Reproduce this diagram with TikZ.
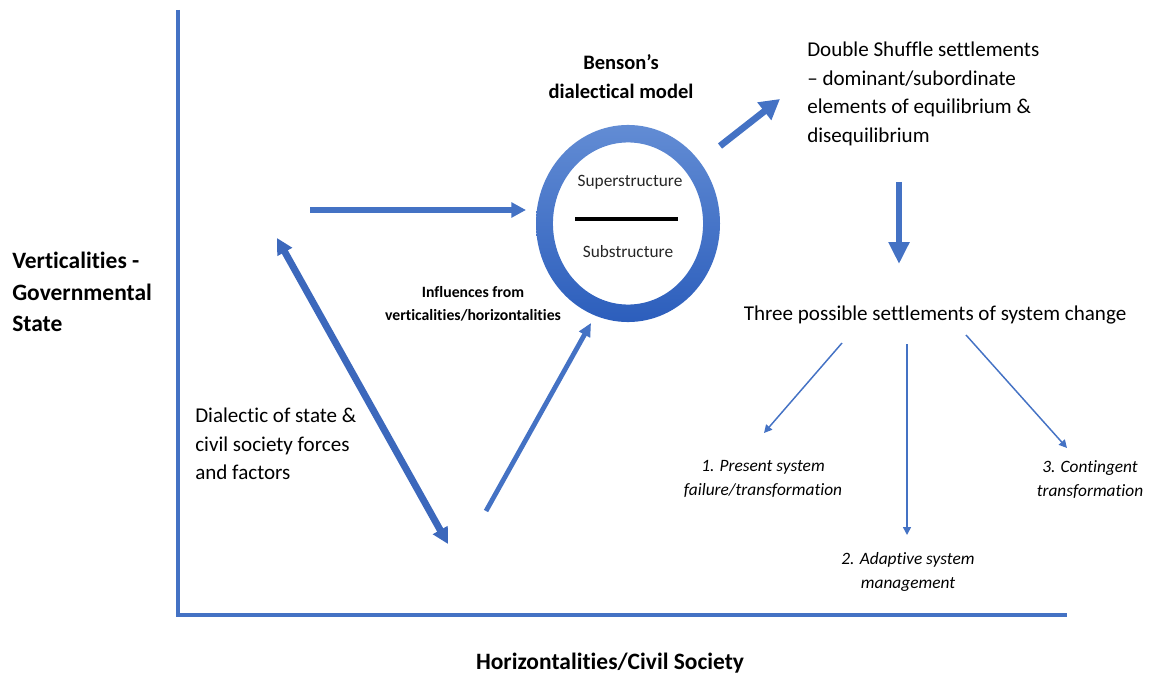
\documentclass[tikz,border=0pt]{standalone}
\usepackage{fontspec}
\setmainfont{Carlito}[Ligatures=NoCommon]
\usetikzlibrary{arrows.meta}
\definecolor{axisblue}{RGB}{68,114,196}
\definecolor{darkblue}{RGB}{60,104,188}
\definecolor{ringtop}{RGB}{98,140,212}
\definecolor{ringbot}{RGB}{44,94,188}
\begin{document}
\begin{tikzpicture}[x=0.75pt,y=-0.75pt,
  lbl/.style={inner sep=0pt, text=black},
  axislbl/.style={lbl, font=\bfseries\fontsize{17.6}{23.6}\selectfont},
  titlelbl/.style={lbl, font=\bfseries\fontsize{15.4}{21.7}\selectfont, align=center},
  smallbold/.style={lbl, font=\bfseries\fontsize{11.8}{16.8}\selectfont, align=center},
  body/.style={lbl, font=\fontsize{15.8}{21.4}\selectfont},
  layer/.style={lbl, text=black!85, font=\fontsize{13}{16}\selectfont},
  outcome/.style={lbl, font=\itshape\fontsize{13}{18}\selectfont, align=center},
  axisline/.style={draw=axisblue, line width=2.3pt},
  bigarrow/.style={draw=axisblue, line width=#1},
  thinarrow/.style={draw=axisblue, line width=1.1pt, -{Triangle[length=6pt, width=6pt]}}
]
\useasboundingbox (0,0) rectangle (1151,677);

% axes
\coordinate (ytop) at (178,10);
\coordinate (origin) at (178,615);
\coordinate (xend) at (1067,615);
\draw[axisline] (ytop) -- (origin) -- (xend);

% axis labels
\node[axislbl, anchor=west, align=left] (vert) at (12,292) {Verticalities -\\Governmental\\State};
\node[axislbl, anchor=center] (horiz) at (610,663) {Horizontalities/Civil Society};

% dialectical model ring
\coordinate (ring) at (628,223.5);
\shade[top color=ringtop, bottom color=ringbot, even odd rule]
  (ring) ellipse [x radius=69pt, y radius=73.9pt]
  (ring) ellipse [x radius=56.3pt, y radius=60.8pt];
\node[layer] (super) at (630,182) {Superstructure};
\node[layer] (sub) at (628,252) {Substructure};
\coordinate (barL) at (575,219);
\coordinate (barR) at (678,219);
\draw[line width=2.3pt] (barL) -- (barR);
\node[titlelbl] (benson) at (621,77) {Benson’s\\dialectical model};

% text blocks
\node[body, anchor=west, align=left] (shuffle) at (807,94)
  {Double Shuffle settlements\\– dominant/subordinate\\elements of equilibrium \&\\disequilibrium};
\node[body, anchor=center] (three) at (935,315) {Three possible settlements of system change};
\node[body, anchor=west, align=left] (dialectic) at (195,444)
  {Dialectic of state \&\\civil society forces\\and factors};
\node[smallbold] (influences) at (473,304) {Influences from\\verticalities/horizontalities};

% outcomes
\node[outcome] (out1) at (763,479) {1. Present system\\failure/transformation};
\node[outcome] (out2) at (908,572) {2. Adaptive system\\management};
\node[outcome] (out3) at (1090,480) {3. Contingent\\transformation};

% thick arrows
\coordinate (hA) at (310,210);
\coordinate (hB) at (526,210);
\draw[bigarrow=3.8pt, -{Triangle[length=11pt, width=11pt]}] (hA) -- (hB);

\coordinate (dA) at (277,238);
\coordinate (dB) at (448,544);
\draw[draw=darkblue, line width=5.2pt, {Triangle[length=12pt, width=12pt]}-{Triangle[length=12pt, width=12pt]}] (dA) -- (dB);

\coordinate (uA) at (486,511);
\coordinate (uB) at (591,323);
\draw[bigarrow=3.6pt, -{Triangle[length=10pt, width=9pt]}] (uA) -- (uB);

\coordinate (sA) at (720,146);
\coordinate (sB) at (780,99);
\draw[bigarrow=5pt, -{Triangle[length=15pt, width=16pt]}] (sA) -- (sB);

\coordinate (vA) at (899,182);
\coordinate (vB) at (899,264);
\draw[bigarrow=4.6pt, -{Triangle[length=16.5pt, width=15pt]}] (vA) -- (vB);

% thin arrows to the three outcomes
\coordinate (t1A) at (842,343);
\coordinate (t1B) at (764,433);
\draw[thinarrow] (t1A) -- (t1B);
\coordinate (t2A) at (907,344);
\coordinate (t2B) at (907,535);
\draw[thinarrow] (t2A) -- (t2B);
\coordinate (t3A) at (966,335);
\coordinate (t3B) at (1067,448);
\draw[thinarrow] (t3A) -- (t3B);
\end{tikzpicture}
\end{document}
